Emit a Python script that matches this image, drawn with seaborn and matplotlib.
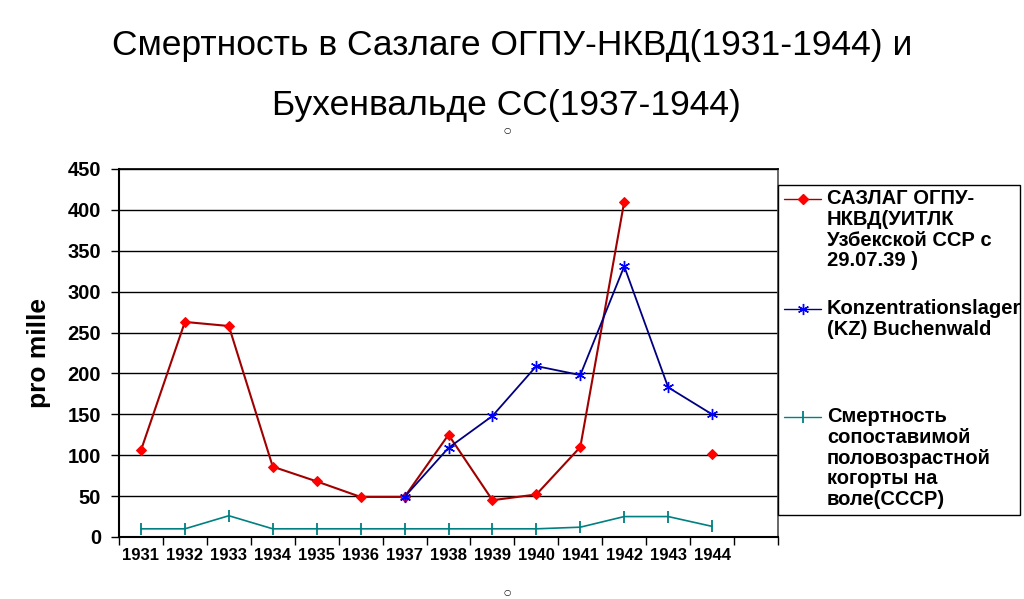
import numpy as np
import pandas as pd
import matplotlib.pyplot as plt
import seaborn as sns
from matplotlib.lines import Line2D
from matplotlib.patches import Rectangle

years = ['1931', '1932', '1933', '1934', '1935', '1936', '1937',
         '1938', '1939', '1940', '1941', '1942', '1943', '1944']

# pro mille (None = no value)
sazlag = [106, 263, 258, 86, 68, 49, 49, 125, 45, 52, 110, 410, None, 101]
buchenwald = [None, None, None, None, None, None, 49, 109, 148, 209, 198, 331, 183, 150]
ussr = [10, 10, 26, 10, 10, 10, 10, 10, 10, 10, 12, 25, 25, 13]

labels = ['САЗЛАГ ОГПУ-\nНКВД(УИТЛК\nУзбекской ССР с\n29.07.39 )',
          'Konzentrationslager\n(KZ) Buchenwald',
          'Смертность\nсопоставимой\nполовозрастной\nкогорты на\nволе(СССР)']

sns.set_theme(style='white')
plt.rcParams['font.family'] = ['Liberation Sans', 'DejaVu Sans']
plt.rcParams['text.color'] = 'black'
plt.rcParams['axes.labelcolor'] = 'black'
plt.rcParams['xtick.color'] = 'black'
plt.rcParams['ytick.color'] = 'black'


def frame(vals):
    d = pd.DataFrame({'x': np.arange(len(years)), 'y': pd.to_numeric(pd.Series(vals), errors='coerce')})
    # split the line where a value is missing
    d['seg'] = d['y'].isna().cumsum()
    return d.dropna()


fig = plt.figure(figsize=(10.24, 5.99), dpi=100)
ax = fig.add_axes([119 / 1024, 1 - 537 / 599, 659 / 1024, 368 / 599])

styles = [
    dict(color='#A00000', marker='D', markersize=5, markerfacecolor='#FF0000',
         markeredgecolor='#FF0000', linewidth=1.5),
    dict(color='#000080', marker=(6, 2, 0), markersize=8, markerfacecolor='#0000FF',
         markeredgecolor='#0000FF', markeredgewidth=1.0, linewidth=1.3),
    dict(color='#008080', marker='|', markersize=8, markeredgecolor='#008080',
         markeredgewidth=1.3, linewidth=1.2),
]

for vals, st in zip([ussr, sazlag, buchenwald], [styles[2], styles[0], styles[1]]):
    sns.lineplot(data=frame(vals), x='x', y='y', units='seg', estimator=None,
                 ax=ax, legend=False, **st)

ax.set_xlim(-0.5, 14.5)
ax.set_ylim(0, 450)
ax.set_yticks(np.arange(0, 451, 50))
ax.set_xticks(np.arange(len(years)))
ax.set_xticklabels(years, fontsize=12, fontweight='bold')
ax.set_xticks(np.arange(-0.5, 15, 1), minor=True)
ax.tick_params(axis='x', which='major', length=0, pad=8)
ax.tick_params(axis='x', which='minor', length=6, width=1, color='black', direction='out', bottom=True)
ax.tick_params(axis='y', length=6, width=1, color='black', direction='out', left=True, pad=7,
               labelsize=14.5)
for t in ax.get_yticklabels():
    t.set_fontweight('bold')
ax.yaxis.grid(True, color='black', linewidth=1)
ax.set_axisbelow(True)
ax.set_xlabel('')
ax.set_ylabel('pro mille', fontsize=19, fontweight='bold', labelpad=12)
for s in ['left', 'bottom']:
    ax.spines[s].set_color('black')
    ax.spines[s].set_linewidth(1.5)
ax.spines['top'].set_color('black')
ax.spines['right'].set_color('#555555')

fig.text(0.5, 1 - 45 / 599, 'Смертность в Сазлаге ОГПУ-НКВД(1931-1944) и',
         ha='center', va='center', fontsize=25.5)
fig.text(0.495, 1 - 106 / 599, 'Бухенвальде СС(1937-1944)',
         ha='center', va='center', fontsize=25.5)
fig.text(507 / 1024, 1 - 131 / 599, '○', ha='center', va='center', fontsize=6,
         family='DejaVu Sans')
fig.text(507 / 1024, 1 - 593 / 599, '○', ha='center', va='center', fontsize=6,
         family='DejaVu Sans')

# legend box, entries aligned to the first text line
fig.add_artist(Rectangle((778 / 1024, 1 - 515 / 599), 242 / 1024, 330 / 599,
                         transform=fig.transFigure, facecolor='white',
                         edgecolor='black', linewidth=1, clip_on=False))
for st, lab, ytop in zip(styles, labels, [199, 309, 417]):
    yy = 1 - ytop / 599
    h = Line2D([784 / 1024, 802.5 / 1024, 821 / 1024], [yy, yy, yy],
               transform=fig.transFigure, **st)
    h.set_markevery([1])
    h.set_linewidth(1)
    fig.add_artist(h)
    fig.text(827 / 1024, yy + 10 / 599, lab, ha='left', va='top', fontsize=14.5,
             fontweight='bold', linespacing=1.12)

fig.savefig('out.png', dpi=100)
